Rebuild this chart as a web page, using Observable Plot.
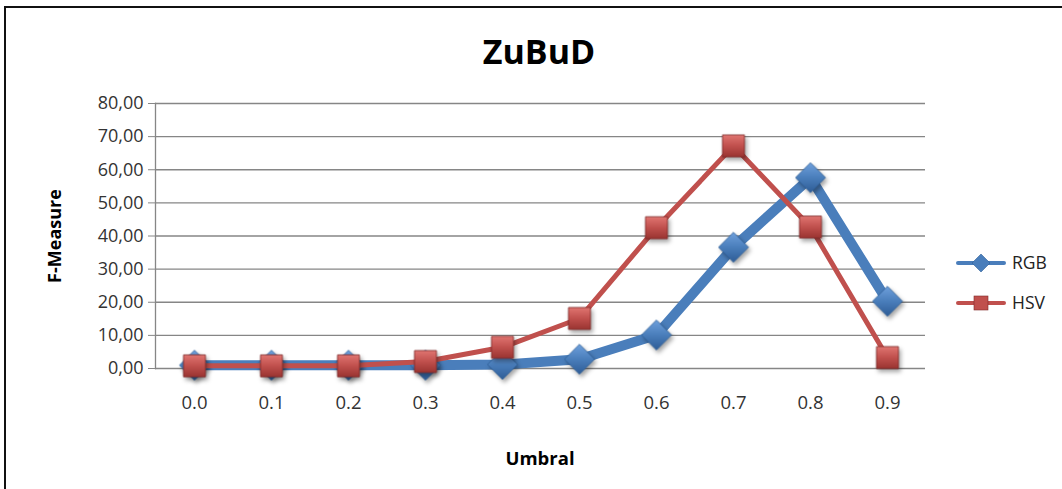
<!DOCTYPE html>
<html>
<head>
<meta charset="utf-8">
<script src="https://cdn.jsdelivr.net/npm/d3@7"></script>
<script src="https://cdn.jsdelivr.net/npm/@observablehq/plot@0.6"></script>
<style>
  html, body { margin: 0; padding: 0; background: #fff; overflow: hidden; }
  #wrap { position: relative; width: 1062px; height: 489px; font-family: "Open Sans", Lato, sans-serif; }
  #border { position: absolute; left: 4px; top: 6px; width: 1100px; height: 600px; border: 2px solid #111; box-sizing: border-box; }
  #title { position: absolute; left: 539px; top: 51px; transform: translate(-50%, -50%); line-height: 1; white-space: nowrap; font-size: 34px; font-weight: bold; color: #000; }
  #ylab { position: absolute; left: 54px; top: 236px; line-height: 1; transform: translate(-50%, -50%) rotate(-90deg); font-size: 18px; font-weight: bold; white-space: nowrap; color: #000; }
  #xlab { position: absolute; left: 540px; top: 458px; line-height: 1; transform: translate(-50%, -50%); font-size: 18.5px; font-weight: bold; color: #000; }
  #legend { position: absolute; left: 956px; top: 243px; font-size: 17.5px; color: #222; }
  .lg { display: flex; align-items: center; height: 40px; }
  .lg span { margin-left: 6px; line-height: 1; }
  #chart { position: absolute; left: 0; top: 0; }
  .shadow { filter: drop-shadow(2px 3px 2px rgba(0,0,0,0.35)); }
</style>
</head>
<body>
<div id="wrap">
  <div id="border"></div>
  <div id="chart"></div>
  <div id="title">ZuBuD</div>
  <div id="ylab">F-Measure</div>
  <div id="xlab">Umbral</div>
  <div id="legend"></div>
</div>
<script>
const categories = ["0.0", "0.1", "0.2", "0.3", "0.4", "0.5", "0.6", "0.7", "0.8", "0.9"];
const rgbValues = [1.0, 1.0, 1.0, 1.0, 1.2, 2.8, 10.1, 36.6, 57.6, 20.3];
const hsvValues = [0.8, 0.8, 0.8, 2.1, 6.4, 15.1, 42.5, 67.2, 42.7, 3.3];
const yTicks = [0, 10, 20, 30, 40, 50, 60, 70, 80];
const seriesNames = ["RGB", "HSV"];
const blue = "#4a7ebb";
const red = "#c0504d";

const rgb = categories.map((c, i) => ({x: c, y: rgbValues[i]}));
const hsv = categories.map((c, i) => ({x: c, y: hsvValues[i]}));

const fmt = d => d.toFixed(2).replace(".", ",");

const chart = Plot.plot({
  width: 1062,
  height: 489,
  marginLeft: 155,
  marginRight: 137,
  marginTop: 103,
  marginBottom: 121,
  style: {fontFamily: "'Open Sans', Lato, sans-serif", fontSize: "18px", color: "#333", background: "transparent", overflow: "visible"},
  x: {type: "point", domain: categories, padding: 0.5},
  y: {domain: [0, 80]},
  marks: [
    Plot.gridY(yTicks, {stroke: "#868686", strokeOpacity: 1, strokeWidth: 1.3}),
    Plot.frame({anchor: "left", stroke: "#868686", strokeWidth: 1.3}),
    Plot.axisY(yTicks, {tickSize: 7, tickPadding: 5, tickFormat: fmt, stroke: "#868686", label: null, fontSize: 18}),
    Plot.axisX({tickSize: 0, tickPadding: 27, label: null, fontSize: 18.5}),
    Plot.line(rgb, {x: "x", y: "y", stroke: blue, strokeWidth: 10}),
    Plot.dot(rgb, {x: "x", y: "y", symbol: "diamond2", r: 13.5, fill: "url(#gBlue)", stroke: "#2f5f98", strokeWidth: 0.8, className: "shadow"}),
    Plot.line(hsv, {x: "x", y: "y", stroke: red, strokeWidth: 5}),
    Plot.dot(hsv, {x: "x", y: "y", symbol: "square", r: 12.4, fill: "url(#gRed)", stroke: "#7f2a28", strokeWidth: 0.8, className: "shadow"})
  ]
});

chart.insertAdjacentHTML("afterbegin", `
<defs>
  <linearGradient id="gBlue" x1="0" y1="0" x2="0" y2="1">
    <stop offset="0" stop-color="#6fa0dc"/>
    <stop offset="0.5" stop-color="#4a7ebb"/>
    <stop offset="1" stop-color="#2e5c96"/>
  </linearGradient>
  <linearGradient id="gRed" x1="0" y1="0" x2="0" y2="1">
    <stop offset="0" stop-color="#e07571"/>
    <stop offset="0.5" stop-color="#c0504d"/>
    <stop offset="1" stop-color="#9a3431"/>
  </linearGradient>
</defs>`);
document.getElementById("chart").appendChild(chart);

// Legend
const legend = d3.select("#legend");
const items = [
  {name: seriesNames[0], color: blue, sym: "diamond"},
  {name: seriesNames[1], color: red, sym: "square"}
];
items.forEach(it => {
  const row = legend.append("div").attr("class", "lg");
  const s = row.append("svg").attr("width", 50).attr("height", 24);
  s.append("line").attr("x1", 2).attr("x2", 48).attr("y1", 12).attr("y2", 12)
    .attr("stroke", it.color).attr("stroke-width", 4).attr("stroke-linecap", "round");
  if (it.sym === "diamond") {
    s.append("path").attr("d", "M25,3 L34,12 L25,21 L16,12 Z").attr("fill", it.color).attr("stroke", "#2f5f98").attr("stroke-width", 0.6);
  } else {
    s.append("rect").attr("x", 18).attr("y", 5).attr("width", 14).attr("height", 14).attr("fill", it.color).attr("stroke", "#7f2a28").attr("stroke-width", 0.6);
  }
  row.append("span").text(it.name);
});
</script>
</body>
</html>
